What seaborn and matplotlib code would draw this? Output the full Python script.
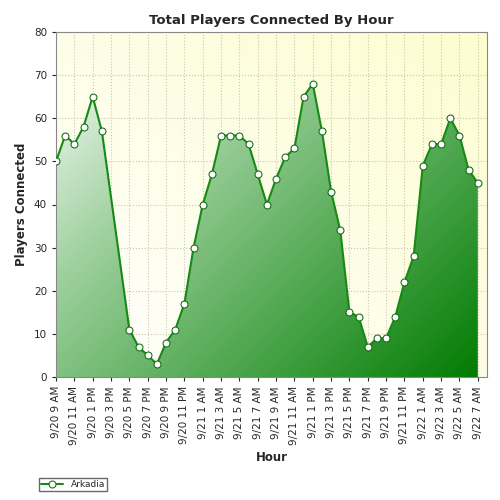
import numpy as np
import matplotlib
matplotlib.use("Agg")
import matplotlib.pyplot as plt
import seaborn as sns
from matplotlib.colors import LinearSegmentedColormap

sns.set_style("white")
plt.rcParams["font.family"] = ["DejaVu Sans"]

# hours since 9/20 9 AM (3 PM and 4 PM missing)
hours = [0, 1, 2, 3, 4, 5] + list(range(8, 47))
players = [50, 56, 54, 58, 65, 57,
           11, 7, 5, 3, 8, 11, 17, 30, 40, 47, 56, 56, 56, 54, 47, 40,
           46, 51, 53, 65, 68, 57, 43, 34, 15, 14, 7, 9, 9, 14, 22, 28,
           49, 54, 54, 60, 56, 48, 45]
tick_labels = ["9/20 9 AM", "9/20 11 AM", "9/20 1 PM", "9/20 3 PM", "9/20 5 PM",
               "9/20 7 PM", "9/20 9 PM", "9/20 11 PM", "9/21 1 AM", "9/21 3 AM",
               "9/21 5 AM", "9/21 7 AM", "9/21 9 AM", "9/21 11 AM", "9/21 1 PM",
               "9/21 3 PM", "9/21 5 PM", "9/21 7 PM", "9/21 9 PM", "9/21 11 PM",
               "9/22 1 AM", "9/22 3 AM", "9/22 5 AM", "9/22 7 AM"]

fig = plt.figure(figsize=(5, 5), dpi=100)
ax = fig.add_axes([0.112, 0.246, 0.862, 0.69])
xmax = 47.0
ax.set_xlim(0, xmax)
ax.set_ylim(0, 80)

# background gradient (pale yellow top-right -> white bottom-left)
gx, gy = np.meshgrid(np.linspace(0, 1, 200), np.linspace(0, 1, 200))
bg = (gx + gy) / 2
bg_cmap = LinearSegmentedColormap.from_list("bg", ["#ffffff", "#fdfdd0"])
ax.imshow(bg, extent=[0, xmax, 0, 80], origin="lower", aspect="auto",
          cmap=bg_cmap, zorder=0)
ax.grid(True, color="#c8c8b0", linestyle=":", linewidth=0.8, zorder=1)

# filled area with gradient (white top-left -> dark green bottom-right)
fill = ax.fill_between(hours, players, 0, color="none", zorder=2)
fg_cmap = LinearSegmentedColormap.from_list("fg", ["#ffffff", "#9ccf9c", "#4da64d", "#007a00"])
grad = ax.imshow(np.clip(gx * 0.55 + (1 - gy) * 0.45, 0, 1), extent=[0, xmax, 0, 80],
                 origin="lower", aspect="auto", cmap=fg_cmap, zorder=2)
grad.set_clip_path(fill.get_paths()[0], transform=ax.transData)

sns.lineplot(x=hours, y=players, ax=ax, color="#158a15", linewidth=1.5,
             marker="o", markersize=5, markerfacecolor="white",
             markeredgecolor="#106a10", zorder=3, label="Arkadia")

ax.set_xticks(range(0, 47, 2))
ax.set_xticklabels(tick_labels, rotation=90, fontsize=7.5)
ax.set_yticks(range(0, 81, 10))
ax.tick_params(axis="y", labelsize=7.5, left=True, length=3)
ax.tick_params(axis="x", bottom=True, length=3)
for s in ax.spines.values():
    s.set_color("#888888")
ax.set_title("Total Players Connected By Hour", fontsize=9.5, fontweight="bold")
ax.set_xlabel("Hour", fontsize=8.5, fontweight="bold")
ax.set_ylabel("Players Connected", fontsize=8.5, fontweight="bold")
ax.legend(loc="upper left", bbox_to_anchor=(-0.05, -0.28), fontsize=6.5,
          frameon=True, fancybox=False, edgecolor="#444444", borderpad=0.2,
          handlelength=2.5)

fig.savefig("out.png", dpi=100)
